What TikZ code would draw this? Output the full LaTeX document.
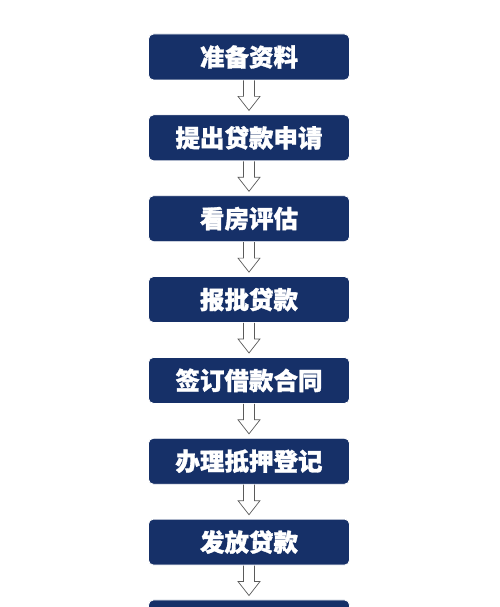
\documentclass[tikz,border=0pt]{standalone}
\usepackage{fontspec}
\usetikzlibrary{calc}
\newfontfamily\cjk{Noto Sans CJK SC}[BoldFeatures={FakeBold=1.2}]
\definecolor{navy}{RGB}{22,48,104}
\definecolor{arrowgray}{RGB}{90,90,90}
\tikzset{
  stepbox/.style={draw=white, line width=0.8pt, fill=navy, rounded corners=5pt,
    minimum width=201pt, minimum height=46pt, inner sep=0pt,
    text=white, font=\cjk\bfseries\fontsize{24.5}{26}\selectfont},
  hollowarrow/.style={draw=arrowgray, line width=0.7pt, fill=white, line join=miter}
}
\begin{document}
\begin{tikzpicture}[x=1pt,y=-1pt]
\useasboundingbox[fill=white] (0,0) rectangle (500,607);
\begin{scope}
\clip (0,0) rectangle (500,607);
\foreach \i/\t in {1/准备资料,2/提出贷款申请,3/看房评估,4/报批贷款,5/签订借款合同,6/办理抵押登记,7/发放贷款,8/{}} {
  \node[stepbox] (b\i) at (249, {57+80.85*(\i-1)}) {\t};
}
\foreach \i [evaluate=\i as \j using int(\i+1)] in {1,...,7} {
  \path (b\i.south) coordinate (s\i) (b\j.north) coordinate (n\i);
  \draw[hollowarrow] ($(s\i)+(-5.5,0)$) -- ($(s\i)+(-5.5,16)$) -- ($(s\i)+(-11,16)$)
     -- ($(n\i)+(0,-4)$) -- ($(s\i)+(11,16)$) -- ($(s\i)+(5.5,16)$) -- ($(s\i)+(5.5,0)$);
}
\end{scope}
\end{tikzpicture}
\end{document}
